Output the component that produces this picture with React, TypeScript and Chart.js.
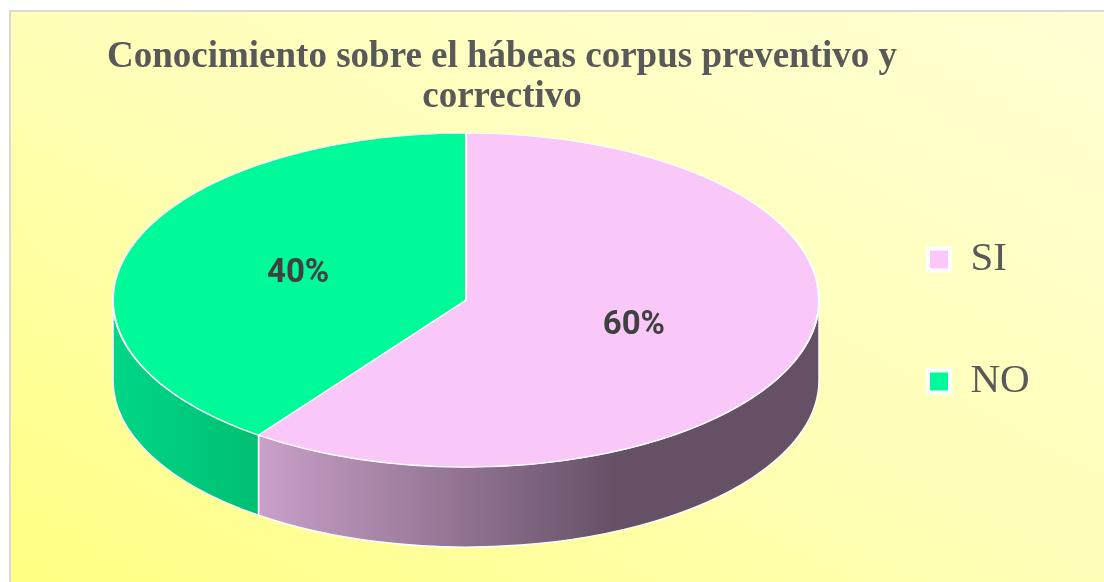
import React, { useEffect, useRef } from "react";
import { Chart, registerables } from "chart.js";

Chart.register(...registerables);

const TITLE_LINES = ["Conocimiento sobre el hábeas corpus preventivo y", "correctivo"];
const CATEGORIES = ["SI", "NO"];
const VALUES = [60, 40];
const TOP_COLORS = ["#F9C8F9", "#00FA9A"];
const SIDE_LIGHT = ["#C9A0C9", "#00D687"];
const SIDE_DARK = ["#665066", "#00BF72"];

const TILT = 0.473; // vertical squash of the pie face
const DEPTH = 0.227; // thickness as share of radius
const TITLE_CENTER_X = 502;
const TITLE_FIRST_LINE_Y = 57;
const TITLE_LINE_HEIGHT = 40;

function sideRanges(a: number, b: number): [number, number][] {
  const out: [number, number][] = [];
  for (const k of [-2, 0, 2]) {
    const lo = Math.max(a, k * Math.PI);
    const hi = Math.min(b, (k + 1) * Math.PI);
    if (hi > lo) out.push([lo, hi]);
  }
  return out;
}

const pie3d = {
  id: "pie3d",
  beforeDatasetsDraw(chart: any) {
    const ctx = chart.ctx as CanvasRenderingContext2D;
    const meta = chart.getDatasetMeta(0);
    ctx.save();
    meta.data.forEach((arc: any, i: number) => {
      const { x, y, startAngle, endAngle, outerRadius } = arc;
      const ry = outerRadius * TILT;
      const d = outerRadius * DEPTH;
      sideRanges(startAngle, endAngle).forEach(([a1, a2]) => {
        const xs = [x + outerRadius * Math.cos(a1), x + outerRadius * Math.cos(a2)];
        const xmin = Math.min(...xs, a1 <= Math.PI && a2 >= Math.PI ? x - outerRadius : Infinity);
        const xmax = Math.max(...xs, a1 <= 0 && a2 >= 0 ? x + outerRadius : -Infinity);
        const g = ctx.createLinearGradient(xmin, 0, xmax, 0);
        if (i === 0) {
          g.addColorStop(0, SIDE_LIGHT[i]);
          g.addColorStop(0.64, SIDE_DARK[i]);
          g.addColorStop(1, SIDE_DARK[i]);
        } else {
          g.addColorStop(0, SIDE_LIGHT[i]);
          g.addColorStop(1, SIDE_DARK[i]);
        }
        ctx.beginPath();
        ctx.ellipse(x, y, outerRadius, ry, 0, a1, a2, false);
        ctx.ellipse(x, y + d, outerRadius, ry, 0, a2, a1, true);
        ctx.closePath();
        ctx.fillStyle = g;
        ctx.fill();
        ctx.lineWidth = 1.5;
        ctx.strokeStyle = "#FFFFFF";
        ctx.stroke();
      });
    });
    ctx.restore();
    const first = meta.data[0];
    ctx.save();
    ctx.translate(0, first.y);
    ctx.scale(1, TILT);
    ctx.translate(0, -first.y);
  },
  afterDatasetsDraw(chart: any) {
    const ctx = chart.ctx as CanvasRenderingContext2D;
    ctx.restore();
    const meta = chart.getDatasetMeta(0);
    const total = VALUES.reduce((s, v) => s + v, 0);
    ctx.save();
    ctx.font = "bold 33px Roboto";
    ctx.fillStyle = "#404040";
    ctx.textAlign = "center";
    ctx.textBaseline = "middle";
    meta.data.forEach((arc: any, i: number) => {
      const { x, y, startAngle, endAngle, outerRadius } = arc;
      const mid = (startAngle + endAngle) / 2;
      const px = x + 0.5 * outerRadius * Math.cos(mid);
      const py = y + 0.5 * outerRadius * TILT * Math.sin(mid);
      ctx.fillText(Math.round((VALUES[i] / total) * 100) + "%", px, py);
    });
    ctx.restore();
  },
};

const titleBlock = {
  id: "titleBlock",
  afterDraw(chart: any) {
    const ctx = chart.ctx as CanvasRenderingContext2D;
    ctx.save();
    ctx.font = "bold 37px 'Liberation Serif', 'Times New Roman', serif";
    ctx.fillStyle = "#595959";
    ctx.textAlign = "center";
    ctx.textBaseline = "middle";
    TITLE_LINES.forEach((line, i) => ctx.fillText(line, TITLE_CENTER_X, TITLE_FIRST_LINE_Y + i * TITLE_LINE_HEIGHT));
    ctx.restore();
  },
};

export default function App() {
  const ref = useRef<HTMLCanvasElement | null>(null);

  useEffect(() => {
    if (!ref.current) return;
    const chart = new Chart(ref.current, {
      type: "pie",
      data: {
        labels: CATEGORIES,
        datasets: [
          {
            data: VALUES,
            backgroundColor: TOP_COLORS,
            borderColor: "#FFFFFF",
            borderWidth: 2,
            radius: 353,
            clip: false,
          } as any,
        ],
      },
      options: {
        responsive: false,
        animation: false,
        devicePixelRatio: 1,
        events: [],
        layout: { padding: { left: 85, right: 67, top: 117, bottom: 99 } },
        plugins: {
          tooltip: { enabled: false },
          title: { display: false },
          legend: {
            display: true,
            position: "right",
            align: "end",
            fullSize: false,
            maxWidth: 190,
            labels: {
              color: "#595959",
              font: { family: "'Liberation Serif', 'Times New Roman', serif", size: 41 },
              boxWidth: 22,
              boxHeight: 22,
              padding: 81,
              generateLabels: () =>
                CATEGORIES.map((c, i) => ({
                  text: c,
                  fillStyle: TOP_COLORS[i],
                  strokeStyle: "#FFFFFF",
                  lineWidth: 4,
                  fontColor: "#595959",
                  hidden: false,
                  index: i,
                  datasetIndex: 0,
                })),
            },
          },
        },
      } as any,
      plugins: [pie3d, titleBlock],
    });
    return () => chart.destroy();
  }, []);

  return (
    <div style={{ position: "fixed", left: 0, top: 0, width: 1104, height: 582, background: "#FFFFFF", overflow: "hidden" }}>
      <div
        style={{
          position: "absolute",
          left: 9,
          top: 10,
          width: 1110,
          height: 590,
          borderTop: "2px solid #D9D9D9",
          borderLeft: "2px solid #D9D9D9",
          background: "linear-gradient(to top right, #FFFF80 0%, #FFFFB8 50%, #FFFFD4 100%)",
        }}
      />
      <canvas ref={ref} width={1104} height={582} style={{ position: "absolute", left: 0, top: 0, width: 1104, height: 582 }} />
    </div>
  );
}
